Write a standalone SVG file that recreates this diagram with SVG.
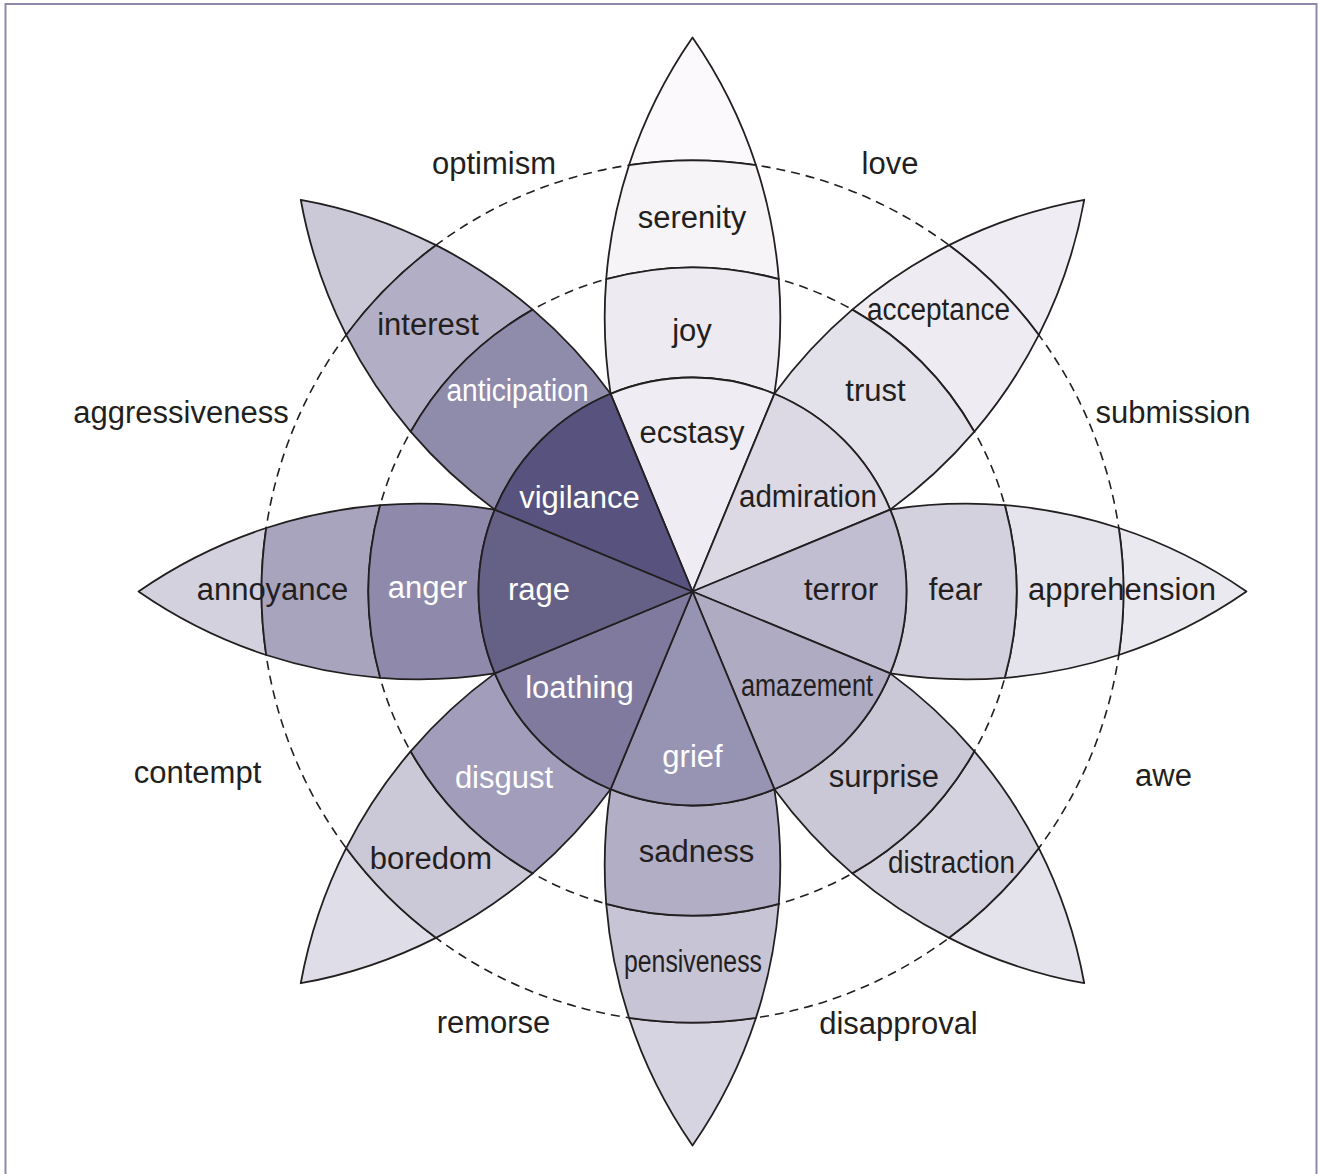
<svg xmlns="http://www.w3.org/2000/svg" xmlns:xlink="http://www.w3.org/1999/xlink" width="1318" height="1174" viewBox="0 0 1318 1174">
<style>
.seg{stroke:#231f20;stroke-width:1.8;stroke-linejoin:round}
.dash{fill:none;stroke:#231f20;stroke-width:1.6;stroke-dasharray:9 6}
.lbl{font-family:"Liberation Sans",Arial,Helvetica,sans-serif;font-size:31px;text-anchor:middle;fill:#231f20}
.w{fill:#ffffff}
</style>
<defs>
<path id="wedge" class="seg" d="M0,0 L197.7,-81.9 A214,214 0 0 1 197.7,81.9 Z"/>
<path id="band1" class="seg" d="M197.7,-81.9 A492,492 0 0 1 312.3,-86.3 A324,324 0 0 1 312.3,86.3 A492,492 0 0 1 197.7,81.9 A214,214 0 0 0 197.7,-81.9 Z"/>
<path id="band2" class="seg" d="M312.3,-86.3 A492,492 0 0 1 426.3,-63.5 A431,431 0 0 1 426.3,63.5 A492,492 0 0 1 312.3,86.3 A324,324 0 0 0 312.3,-86.3 Z"/>
<path id="tip" class="seg" d="M426.3,-63.5 A492,492 0 0 1 554,0 A492,492 0 0 1 426.3,63.5 A431,431 0 0 0 426.3,-63.5 Z"/>
</defs>
<rect x="5.5" y="4" width="1311" height="1200" fill="none" stroke="#8e8aab" stroke-width="2"/>
<g id="guides">
<circle class="dash" cx="692.5" cy="591.5" r="324"/>
<circle class="dash" cx="692.5" cy="591.5" r="431"/>
</g>
<g id="joy">
<g transform="translate(692.5 591.5) rotate(270)">
<use xlink:href="#tip" fill="#fbf9fb"/><use xlink:href="#band2" fill="#f7f4f7"/><use xlink:href="#band1" fill="#edebf1"/><use xlink:href="#wedge" fill="#efedf3"/>
</g>
<text class="lbl" x="692" y="228">serenity</text>
<text class="lbl" x="692" y="341">joy</text>
<text class="lbl" x="692" y="443">ecstasy</text>
</g>
<g id="trust">
<g transform="translate(692.5 591.5) rotate(315)">
<use xlink:href="#tip" fill="#efedf3"/><use xlink:href="#band2" fill="#eeecf2"/><use xlink:href="#band1" fill="#e3e1ea"/><use xlink:href="#wedge" fill="#dcd9e4"/>
</g>
<text class="lbl" x="938.5" y="320" textLength="143" lengthAdjust="spacingAndGlyphs">acceptance</text>
<text class="lbl" x="875.5" y="401">trust</text>
<text class="lbl" x="808" y="507" textLength="138" lengthAdjust="spacingAndGlyphs">admiration</text>
</g>
<g id="fear">
<g transform="translate(692.5 591.5)">
<use xlink:href="#tip" fill="#ebe9f0"/><use xlink:href="#band2" fill="#e5e3ec"/><use xlink:href="#band1" fill="#d4d1de"/><use xlink:href="#wedge" fill="#c2bed1"/>
</g>
<text class="lbl" x="1122" y="600">apprehension</text>
<text class="lbl" x="955.5" y="600">fear</text>
<text class="lbl" x="841" y="600">terror</text>
</g>
<g id="surprise">
<g transform="translate(692.5 591.5) rotate(45)">
<use xlink:href="#tip" fill="#e4e2eb"/><use xlink:href="#band2" fill="#d5d2df"/><use xlink:href="#band1" fill="#cac7d7"/><use xlink:href="#wedge" fill="#afabc3"/>
</g>
<text class="lbl" x="951.5" y="873" textLength="127" lengthAdjust="spacingAndGlyphs">distraction</text>
<text class="lbl" x="884" y="787">surprise</text>
<text class="lbl" x="807" y="696" textLength="132" lengthAdjust="spacingAndGlyphs">amazement</text>
</g>
<g id="sadness">
<g transform="translate(692.5 591.5) rotate(90)">
<use xlink:href="#tip" fill="#d7d4e1"/><use xlink:href="#band2" fill="#c7c4d5"/><use xlink:href="#band1" fill="#b2aec6"/><use xlink:href="#wedge" fill="#9793b2"/>
</g>
<text class="lbl" x="693" y="972" textLength="138" lengthAdjust="spacingAndGlyphs">pensiveness</text>
<text class="lbl" x="696.5" y="862">sadness</text>
<text class="lbl w" x="692.5" y="767">grief</text>
</g>
<g id="disgust">
<g transform="translate(692.5 591.5) rotate(135)">
<use xlink:href="#tip" fill="#dfdde7"/><use xlink:href="#band2" fill="#cbc8d8"/><use xlink:href="#band1" fill="#a19dbb"/><use xlink:href="#wedge" fill="#7f7a9e"/>
</g>
<text class="lbl" x="431" y="869">boredom</text>
<text class="lbl w" x="504" y="788">disgust</text>
<text class="lbl w" x="579.5" y="698">loathing</text>
</g>
<g id="anger">
<g transform="translate(692.5 591.5) rotate(180)">
<use xlink:href="#tip" fill="#d4d1df"/><use xlink:href="#band2" fill="#a8a4bd"/><use xlink:href="#band1" fill="#8f8aab"/><use xlink:href="#wedge" fill="#656186"/>
</g>
<text class="lbl" x="272.5" y="600">annoyance</text>
<text class="lbl w" x="427.5" y="598">anger</text>
<text class="lbl w" x="539" y="600">rage</text>
</g>
<g id="anticipation">
<g transform="translate(692.5 591.5) rotate(225)">
<use xlink:href="#tip" fill="#cbc8d8"/><use xlink:href="#band2" fill="#b2aec6"/><use xlink:href="#band1" fill="#8f8bab"/><use xlink:href="#wedge" fill="#57527e"/>
</g>
<text class="lbl" x="428" y="335">interest</text>
<text class="lbl w" x="517.5" y="401" textLength="142" lengthAdjust="spacingAndGlyphs">anticipation</text>
<text class="lbl w" x="579.5" y="508">vigilance</text>
</g>
<g id="dyads">
<text class="lbl" x="494" y="174">optimism</text>
<text class="lbl" x="890" y="174">love</text>
<text class="lbl" x="1173" y="423">submission</text>
<text class="lbl" x="1163.5" y="786">awe</text>
<text class="lbl" x="898.5" y="1034">disapproval</text>
<text class="lbl" x="493.5" y="1033">remorse</text>
<text class="lbl" x="197.5" y="783">contempt</text>
<text class="lbl" x="181" y="423">aggressiveness</text>
</g>
</svg>
